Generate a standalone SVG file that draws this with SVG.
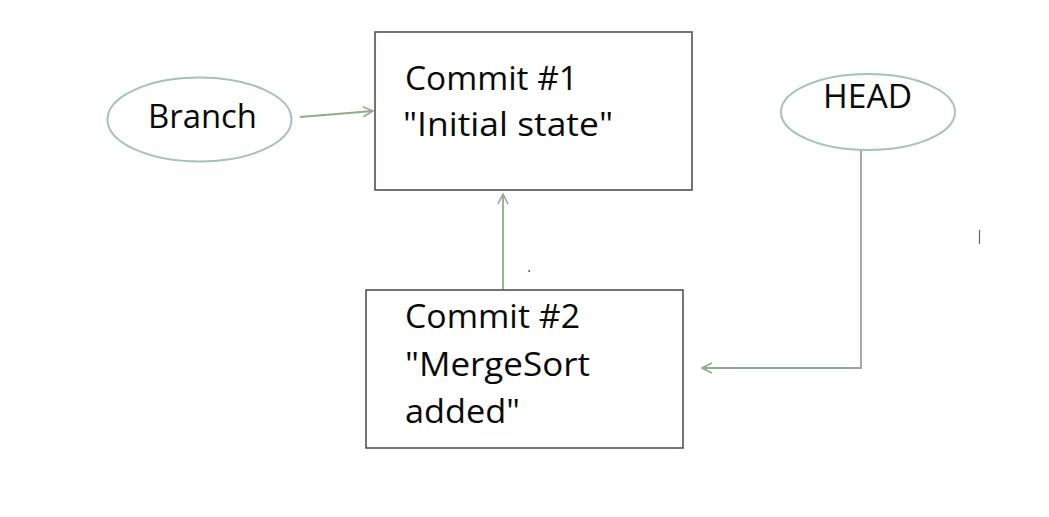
<svg xmlns="http://www.w3.org/2000/svg" width="1049" height="517" viewBox="0 0 1049 517">
<defs>
<style>
.box{fill:#fff;stroke:#5e4b4e;stroke-width:1.6}
.ell{fill:#fff;stroke:#a3c2bb;stroke-width:2}
.lbl{font-family:"Open Sans","Liberation Sans",sans-serif;font-size:32px;fill:#0a0a0a}
.con{fill:none;stroke:#94a894;stroke-width:1.8}
</style>
<marker id="ah" viewBox="0 0 12 12" refX="11" refY="6" markerWidth="12" markerHeight="12" markerUnits="userSpaceOnUse" orient="auto">
<path d="M1,1 L11,6 L1,11" fill="none" stroke="#94a894" stroke-width="1.6"/>
</marker>
</defs>
<rect width="1049" height="517" fill="#fff"/>
<g id="connectors">
<line class="con" x1="300" y1="117" x2="373" y2="111" marker-end="url(#ah)"/>
<line class="con" x1="503" y1="290" x2="503" y2="194" marker-end="url(#ah)"/>
<polyline class="con" points="861,150 861,368 702,368" marker-end="url(#ah)"/>
</g>
<g id="branch">
<ellipse class="ell" cx="199.5" cy="119.5" rx="92" ry="42"/>
<text class="lbl" x="148" y="128" textLength="109" lengthAdjust="spacingAndGlyphs">Branch</text>
</g>
<g id="commit1">
<rect class="box" x="375" y="32" width="317" height="158"/>
<text class="lbl" x="405" y="90" textLength="173" lengthAdjust="spacingAndGlyphs">Commit #1</text>
<text class="lbl" x="403" y="136" textLength="210" lengthAdjust="spacingAndGlyphs">"Initial state"</text>
</g>
<g id="head">
<ellipse class="ell" cx="868" cy="112" rx="87" ry="38"/>
<text class="lbl" x="823" y="108" textLength="89" lengthAdjust="spacingAndGlyphs">HEAD</text>
</g>
<g id="commit2">
<rect class="box" x="366" y="290" width="317" height="158"/>
<text class="lbl" x="405" y="328" textLength="175" lengthAdjust="spacingAndGlyphs">Commit #2</text>
<text class="lbl" x="405" y="376" textLength="185" lengthAdjust="spacingAndGlyphs">"MergeSort</text>
<text class="lbl" x="405" y="423" textLength="115" lengthAdjust="spacingAndGlyphs">added"</text>
</g>
<g id="marks">
<rect x="528.5" y="270" width="1.5" height="2" fill="#556"/>
<line x1="979.5" y1="230" x2="979.5" y2="244" stroke="#666" stroke-width="1.2"/>
</g>
</svg>
